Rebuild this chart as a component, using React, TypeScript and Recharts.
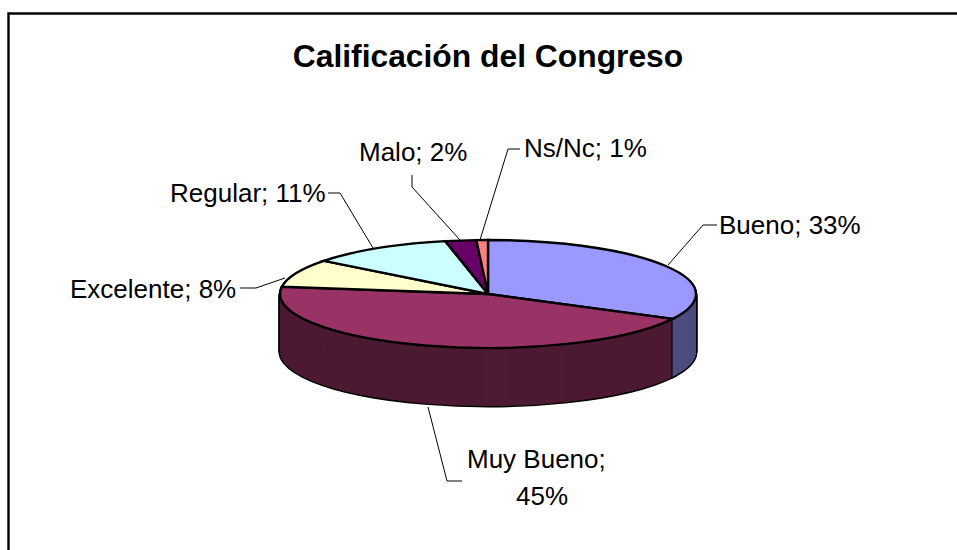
import React from 'react';
import { PieChart, Pie, Cell } from 'recharts';

const CATEGORIES = ['Bueno', 'Muy Bueno', 'Excelente', 'Regular', 'Malo', 'Ns/Nc'];
// slice sizes, the labels show them rounded
const VALUES = [32.7, 44.6, 8.4, 11.2, 2.4, 0.9];
const TOP_COLORS = ['#9999ff', '#993366', '#ffffcc', '#ccffff', '#660066', '#ff8080'];
const SIDE_COLORS = ['#4d4d80', '#4d1a33', '#808066', '#668080', '#330033', '#804040'];
const TITLE = 'Calificación del Congreso';

const data = CATEGORIES.map((name, i) => ({ name, value: VALUES[i] }));

// the black edge where the two front slices meet on the side of the disc
const SEAM = 0.2;
const seamData = [
  { name: 'before', value: VALUES[0] - SEAM / 2 },
  { name: 'seam', value: SEAM },
  { name: 'after', value: VALUES.slice(1).reduce((a, b) => a + b, 0) - SEAM / 2 },
];

// the tilt of the disc: drawn as a circle, squashed vertically
const RADIUS = 208;
const CENTER_X = 488;
const CENTER_Y = 294;
const TILT = 54 / 208;
const DEPTH = 58;
const layers: number[] = [];
for (let k = DEPTH; k >= 1; k--) layers.push(k);
const seamLayers: number[] = [];
for (let k = DEPTH; k >= 1; k -= 0.5) seamLayers.push(k);

// label text, one entry per text line
const labels = [
  { text: 'Bueno; 33%', x: 719, y: 234 },
  { text: 'Ns/Nc; 1%', x: 524, y: 157 },
  { text: 'Malo; 2%', x: 359, y: 161 },
  { text: 'Regular; 11%', x: 170, y: 202 },
  { text: 'Excelente; 8%', x: 70, y: 298 },
  { text: 'Muy Bueno;', x: 467, y: 468 },
  { text: '45%', x: 516, y: 505 },
];

const leaders = [
  '717,225 703,225 668,265',
  '520,149 508,149 480,240',
  '412,175 412,187 460,240',
  '328,193 340,193 373,248',
  '240,288 256,288 285,278',
  '428,407 447,481 462,481',
];

export default function App() {
  return (
    <div style={{ position: 'absolute', left: 0, top: 0, width: 957, height: 550, background: '#fff' }}>
      <PieChart width={957} height={550} margin={{ top: 0, right: 0, bottom: 0, left: 0 }}>
        <path d="M8.5 550 V13.5 H957" fill="none" stroke="#000" strokeWidth={2.4} />
        <text x={488} y={67} textAnchor="middle" fontFamily="Liberation Sans" fontWeight="bold" fontSize={31.8} fill="#000">
          {TITLE}
        </text>
        {leaders.map((points, i) => (
          <polyline key={i} points={points} fill="none" stroke="#000" strokeWidth={1} />
        ))}
        <g transform={`translate(0 ${CENTER_Y}) scale(1 ${TILT})`}>
          {layers.map(k => (
            <Pie
              key={`edge-${k}`}
              zIndex={0}
              data={data}
              dataKey="value"
              cx={CENTER_X}
              cy={k / TILT}
              outerRadius={RADIUS}
              startAngle={90}
              endAngle={-270}
              isAnimationActive={false}
              fill="#000"
              stroke="#000"
              strokeWidth={2.8}
              style={{ vectorEffect: 'non-scaling-stroke' }}
            />
          ))}
          {layers.map(k => (
            <Pie
              key={`side-${k}`}
              zIndex={0}
              data={data}
              dataKey="value"
              cx={CENTER_X}
              cy={k / TILT}
              outerRadius={RADIUS}
              startAngle={90}
              endAngle={-270}
              isAnimationActive={false}
              stroke="none"
            >
              {data.map((d, i) => (
                <Cell key={d.name} fill={SIDE_COLORS[i]} />
              ))}
            </Pie>
          ))}
          {seamLayers.map(k => (
            <Pie
              key={`seam-${k}`}
              zIndex={0}
              data={seamData}
              dataKey="value"
              cx={CENTER_X}
              cy={k / TILT}
              innerRadius={RADIUS - 1.2}
              outerRadius={RADIUS}
              startAngle={90}
              endAngle={-270}
              isAnimationActive={false}
              stroke="none"
            >
              {seamData.map(d => (
                <Cell key={d.name} fill={d.name === 'seam' ? '#000' : 'transparent'} />
              ))}
            </Pie>
          ))}
          <Pie
            zIndex={0}
            data={data}
            dataKey="value"
            cx={CENTER_X}
            cy={0}
            outerRadius={RADIUS}
            startAngle={90}
            endAngle={-270}
            isAnimationActive={false}
            stroke="#000"
            strokeWidth={2.4}
            style={{ vectorEffect: 'non-scaling-stroke' }}
          >
            {data.map((d, i) => (
              <Cell key={d.name} fill={TOP_COLORS[i]} style={{ vectorEffect: 'non-scaling-stroke' }} />
            ))}
          </Pie>
        </g>
        {labels.map(l => (
          <text key={l.text} x={l.x} y={l.y} fontFamily="Liberation Sans" fontSize={26} fill="#000">
            {l.text}
          </text>
        ))}
      </PieChart>
    </div>
  );
}
